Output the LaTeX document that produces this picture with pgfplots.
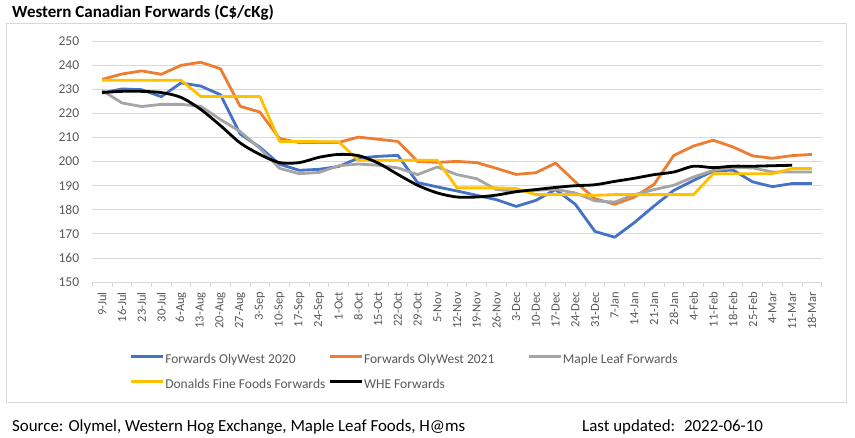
\documentclass[border=0pt]{standalone}
\usepackage{pgfplots}
\pgfplotsset{compat=1.18}
\usepackage{pgfplotstable}
\usepackage{fontspec}
\setmainfont{Carlito}
\definecolor{cblue}{HTML}{4472C4}
\definecolor{corange}{HTML}{ED7D31}
\definecolor{cgray}{HTML}{A5A5A5}
\definecolor{cyellow}{HTML}{FFC000}
\definecolor{gridgray}{HTML}{D9D9D9}
\definecolor{labelgray}{HTML}{595959}
\pgfplotstableread{
x blue orange gray yellow black
0 228.5 234.2 229.6 233.8 228.7
1 230.2 236.4 224.4 233.8 229.2
2 229.9 237.7 222.9 233.8 229.2
3 227.0 236.3 223.8 233.8 228.7
4 232.7 240.0 223.8 233.8 226.7
5 231.4 241.3 223.0 227.1 221.7
6 227.8 238.6 217.5 227.1 215.0
7 211.5 223.0 212.5 227.1 207.8
8 206.0 220.6 205.5 227.1 203.0
9 198.9 209.6 197.2 208.4 199.6
10 196.4 207.9 195.0 208.4 199.6
11 196.8 208.0 195.5 208.3 201.8
12 198.0 208.0 198.3 208.2 203.0
13 201.5 210.2 199.0 200.6 202.5
14 202.2 209.3 198.5 200.6 199.4
15 202.6 208.4 197.4 200.6 194.7
16 191.3 200.1 194.6 200.6 190.2
17 189.5 199.7 197.8 200.6 187.0
18 187.8 200.1 194.6 189.1 185.3
19 186.0 199.6 192.9 189.1 185.3
20 184.2 197.2 188.4 189.1 186.1
21 181.4 194.7 187.7 188.8 187.5
22 183.9 195.4 188.1 186.3 188.4
23 188.4 199.4 188.5 186.3 189.3
24 182.3 191.6 187.0 186.3 190.0
25 171.0 184.6 183.7 186.0 190.4
26 168.6 182.3 183.2 186.3 191.8
27 174.7 185.3 186.3 186.3 193.1
28 181.6 190.6 188.4 186.3 194.6
29 188.1 202.6 190.2 186.3 195.7
30 192.2 206.5 193.6 186.3 198.1
31 196.1 208.9 196.4 195.0 197.5
32 196.5 206.1 197.5 195.0 198.1
33 191.6 202.4 197.4 195.0 198.1
34 189.6 201.4 195.7 195.0 198.3
35 190.9 202.5 195.7 197.1 198.5
36 190.9 203.0 195.7 197.1 nan
}\data
\begin{document}
\begin{tikzpicture}
\useasboundingbox (0pt,0pt) rectangle (855pt,438pt);
\fill[white] (0pt,0pt) rectangle (855pt,438pt);
\draw[gridgray, line width=1pt] (6pt,35pt) rectangle (846pt,414pt);
\node[anchor=base west, inner sep=0pt, font=\fontsize{17}{20}\selectfont\bfseries] at (12pt,420pt) {Western Canadian Forwards (C\$/cKg)};
\node[anchor=base west, inner sep=0pt, font=\fontsize{16.9}{19}\selectfont] at (12pt,6.5pt) {Source: Olymel, Western Hog Exchange, Maple Leaf Foods, H@ms};
\node[anchor=base west, inner sep=0pt, font=\fontsize{16.9}{19}\selectfont] at (582pt,6.5pt) {Last updated:~ 2022-06-10};
\begin{axis}[
  at={(92.3pt,156pt)}, anchor=south west,
  scale only axis, width=729.4pt, height=240.7pt,
  xmin=-0.5, xmax=36.5, ymin=150, ymax=250,
  ytick={150,160,...,250},
  xtick={0,...,36},
  xticklabels={9-Jul,16-Jul,23-Jul,30-Jul,6-Aug,13-Aug,20-Aug,27-Aug,3-Sep,10-Sep,17-Sep,24-Sep,1-Oct,8-Oct,15-Oct,22-Oct,29-Oct,5-Nov,12-Nov,19-Nov,26-Nov,3-Dec,10-Dec,17-Dec,24-Dec,31-Dec,7-Jan,14-Jan,21-Jan,28-Jan,4-Feb,11-Feb,18-Feb,25-Feb,4-Mar,11-Mar,18-Mar},
  minor xtick={-0.5,0.5,...,36.5},
  major tick length=0pt, minor tick length=5pt,
  tick align=outside,
  axis x line*=bottom, axis y line*=left,
  x axis line style={draw=gridgray, line width=0.8pt, -},
  y axis line style={draw=none},
  tick style={draw=gridgray, line width=0.8pt},
  ymajorgrids, grid style={draw=gridgray, line width=0.8pt},
  /pgf/number format/assume math mode=true,
  yticklabel style={font=\fontsize{13.5}{15}\selectfont, text=labelgray, anchor=east, inner sep=0pt, xshift=-13pt},
  xticklabel style={font=\fontsize{12.5}{14}\selectfont, text=labelgray, rotate=90, anchor=east, inner sep=0pt},
  xticklabel shift=10pt,
  every axis plot/.append style={line width=2.8pt, line join=round, no marks},
  legend columns=3,
  legend style={at={(axis description cs:0.0517,-0.2999)}, anchor=north west, draw=none, fill=none, inner sep=0pt, outer sep=0pt, row sep=13pt,
     nodes={inner ysep=0pt, inner xsep=0.5pt, text height=9.5pt, text depth=2.5pt, font=\fontsize{13.5}{15}\selectfont, text=labelgray}},
  legend cell align=left,
  legend image code/.code={\draw[#1] (0pt,3.5pt) -- (32pt,3.5pt);},
]
\addplot[cblue] table[x=x,y=blue]{\data};
\addplot[corange] table[x=x,y=orange]{\data};
\addplot[cgray] table[x=x,y=gray]{\data};
\addplot[cyellow] table[x=x,y=yellow]{\data};
\addplot[black, smooth] table[x=x,y=black]{\data};
\legend{\makebox[163pt][l]{Forwards OlyWest 2020},\makebox[163pt][l]{Forwards OlyWest 2021},Maple Leaf Forwards,\makebox[163pt][l]{Donalds Fine Foods Forwards},WHE Forwards}
\end{axis}
\end{tikzpicture}
\end{document}
